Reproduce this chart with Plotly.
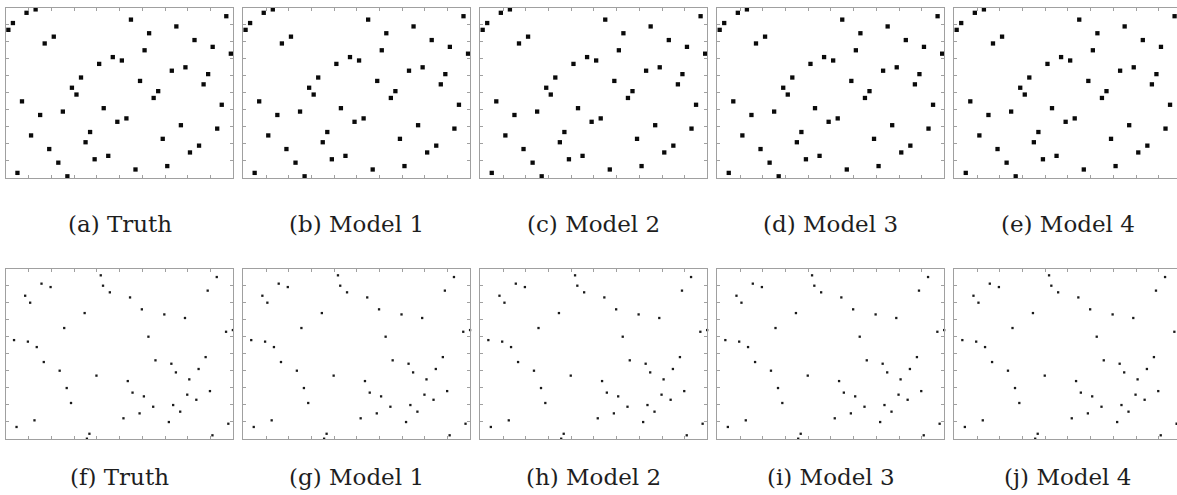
import plotly.graph_objects as go

# ---------------- data ----------------
captions_top = ["(a) Truth", "(b) Model 1", "(c) Model 2", "(d) Model 3", "(e) Model 4"]
captions_bottom = ["(f) Truth", "(g) Model 1", "(h) Model 2", "(i) Model 3", "(j) Model 4"]

# Top row: 50 points (same configuration in every panel)
top_x = [0.1, 0.3, 0.9, 1.3, 1.7, 2.1, 0.7, 1.5, 1.1, 1.9,
         2.3, 0.5, 2.7, 2.5, 2.9, 3.1, 3.3, 4.1, 4.7, 5.1,
         5.5, 4.3, 4.9, 5.3, 3.7, 3.5, 3.9, 4.5, 5.7, 5.9,
         6.1, 6.3, 6.7, 6.5, 6.9, 7.1, 7.3, 7.5, 7.7, 7.9,
         8.1, 8.3, 8.5, 8.7, 8.9, 9.1, 9.3, 9.5, 9.7, 9.9]
top_y = [8.7, 9.1, 9.7, 9.9, 7.9, 8.3, 4.5, 3.7, 2.5, 1.7,
         0.9, 0.3, 0.1, 3.9, 5.3, 4.9, 5.9, 6.7, 7.1, 6.9,
         9.3, 4.1, 3.3, 3.5, 2.7, 2.1, 1.1, 1.3, 0.5, 5.7,
         7.5, 8.5, 5.1, 4.7, 2.3, 0.7, 6.3, 8.9, 3.1, 6.5,
         1.5, 8.1, 1.9, 5.5, 6.1, 7.7, 2.9, 4.3, 9.5, 7.3]

# Bottom row: 50 points (same configuration in every panel)
bot_x = [0.35, 0.46, 0.84, 1.06, 0.96, 1.35, 1.25, 1.56, 1.96, 1.66,
         2.36, 2.56, 2.67, 2.86, 3.46, 3.98, 3.56, 3.67, 4.17, 4.27,
         4.57, 5.46, 5.36, 5.57, 5.17, 5.98, 6.27, 6.07, 5.88, 6.48,
         6.58, 6.97, 7.28, 7.48, 7.36, 7.17, 7.67, 7.88, 8.07, 7.98,
         8.38, 8.48, 8.79, 8.88, 8.98, 9.28, 9.09, 9.69, 9.99, 9.79]
bot_y = [5.80, 0.69, 8.41, 8.00, 5.71, 5.39, 1.08, 9.12, 8.92, 4.51,
         4.00, 6.51, 2.98, 2.10, 7.39, 3.71, 0.00, 0.29, 9.61, 9.00,
         8.61, 8.31, 3.39, 2.71, 1.20, 7.61, 6.00, 2.49, 1.49, 1.88,
         4.61, 7.31, 4.41, 3.90, 1.98, 0.98, 1.59, 7.10, 3.49, 2.59,
         2.29, 4.10, 4.80, 8.71, 2.80, 9.51, 0.20, 6.29, 6.39, 0.88]

# ---------------- layout ----------------
W, H = 1177, 495
lefts = [6.1, 243.3, 480.4, 717.4, 954.4]
pw = 227.0
rows = [  # (top px, bottom px, caption center px, x, y, marker)
    (7.7, 178.0, 224.0, top_x, top_y, dict(symbol="square", size=4.3, color="#0a0a0a")),
    (268.7, 438.7, 477.0, bot_x, bot_y, dict(symbol="square", size=2.3, color="#1a1a1a")),
]
captions = [captions_top, captions_bottom]

fig = go.Figure()
layout = dict(width=W, height=H, margin=dict(l=0, r=0, t=0, b=0),
              paper_bgcolor="white", plot_bgcolor="white", showlegend=False)
annotations = []
k = 0
for r, (ptop, pbot, capy, xs, ys, mk) in enumerate(rows):
    for c in range(5):
        k += 1
        left = lefts[c]
        right = min(left + pw, W)
        clipped = right < left + pw
        xmax = 10.0 * (right - left) / pw
        xa = "xaxis" if k == 1 else f"xaxis{k}"
        ya = "yaxis" if k == 1 else f"yaxis{k}"
        xr = "x" if k == 1 else f"x{k}"
        yr = "y" if k == 1 else f"y{k}"
        common = dict(showgrid=False, zeroline=False, showticklabels=False,
                      showline=True, linecolor="#a0a0a0", linewidth=1,
                      ticks="inside", ticklen=3, tickcolor="#a0a0a0", tickwidth=1,
                      dtick=1, tick0=0, fixedrange=True)
        layout[xa] = dict(domain=[left / W, right / W], range=[0, xmax], anchor=yr,
                          mirror="allticks", **common)
        layout[ya] = dict(domain=[1 - pbot / H, 1 - ptop / H], range=[0, 10], anchor=xr,
                          mirror=(False if clipped else "allticks"), **common)
        fig.add_trace(go.Scatter(x=xs, y=ys, mode="markers", marker=dict(line=dict(width=0), **mk),
                                 xaxis=xr, yaxis=yr, cliponaxis=False, hoverinfo="skip"))
        annotations.append(dict(text=captions[r][c], xref="paper", yref="paper",
                                x=(left + min(left + pw, W + 4)) / 2 / W, y=1 - capy / H,
                                xanchor="center", yanchor="middle", showarrow=False,
                                font=dict(family="DejaVu Serif", size=23, color="#1e1e1e")))
layout["annotations"] = annotations
fig.update_layout(**layout)
fig.write_html("out.html", config={"displayModeBar": False},
               post_script="document.body.style.margin='0px';document.body.style.overflow='hidden';")
